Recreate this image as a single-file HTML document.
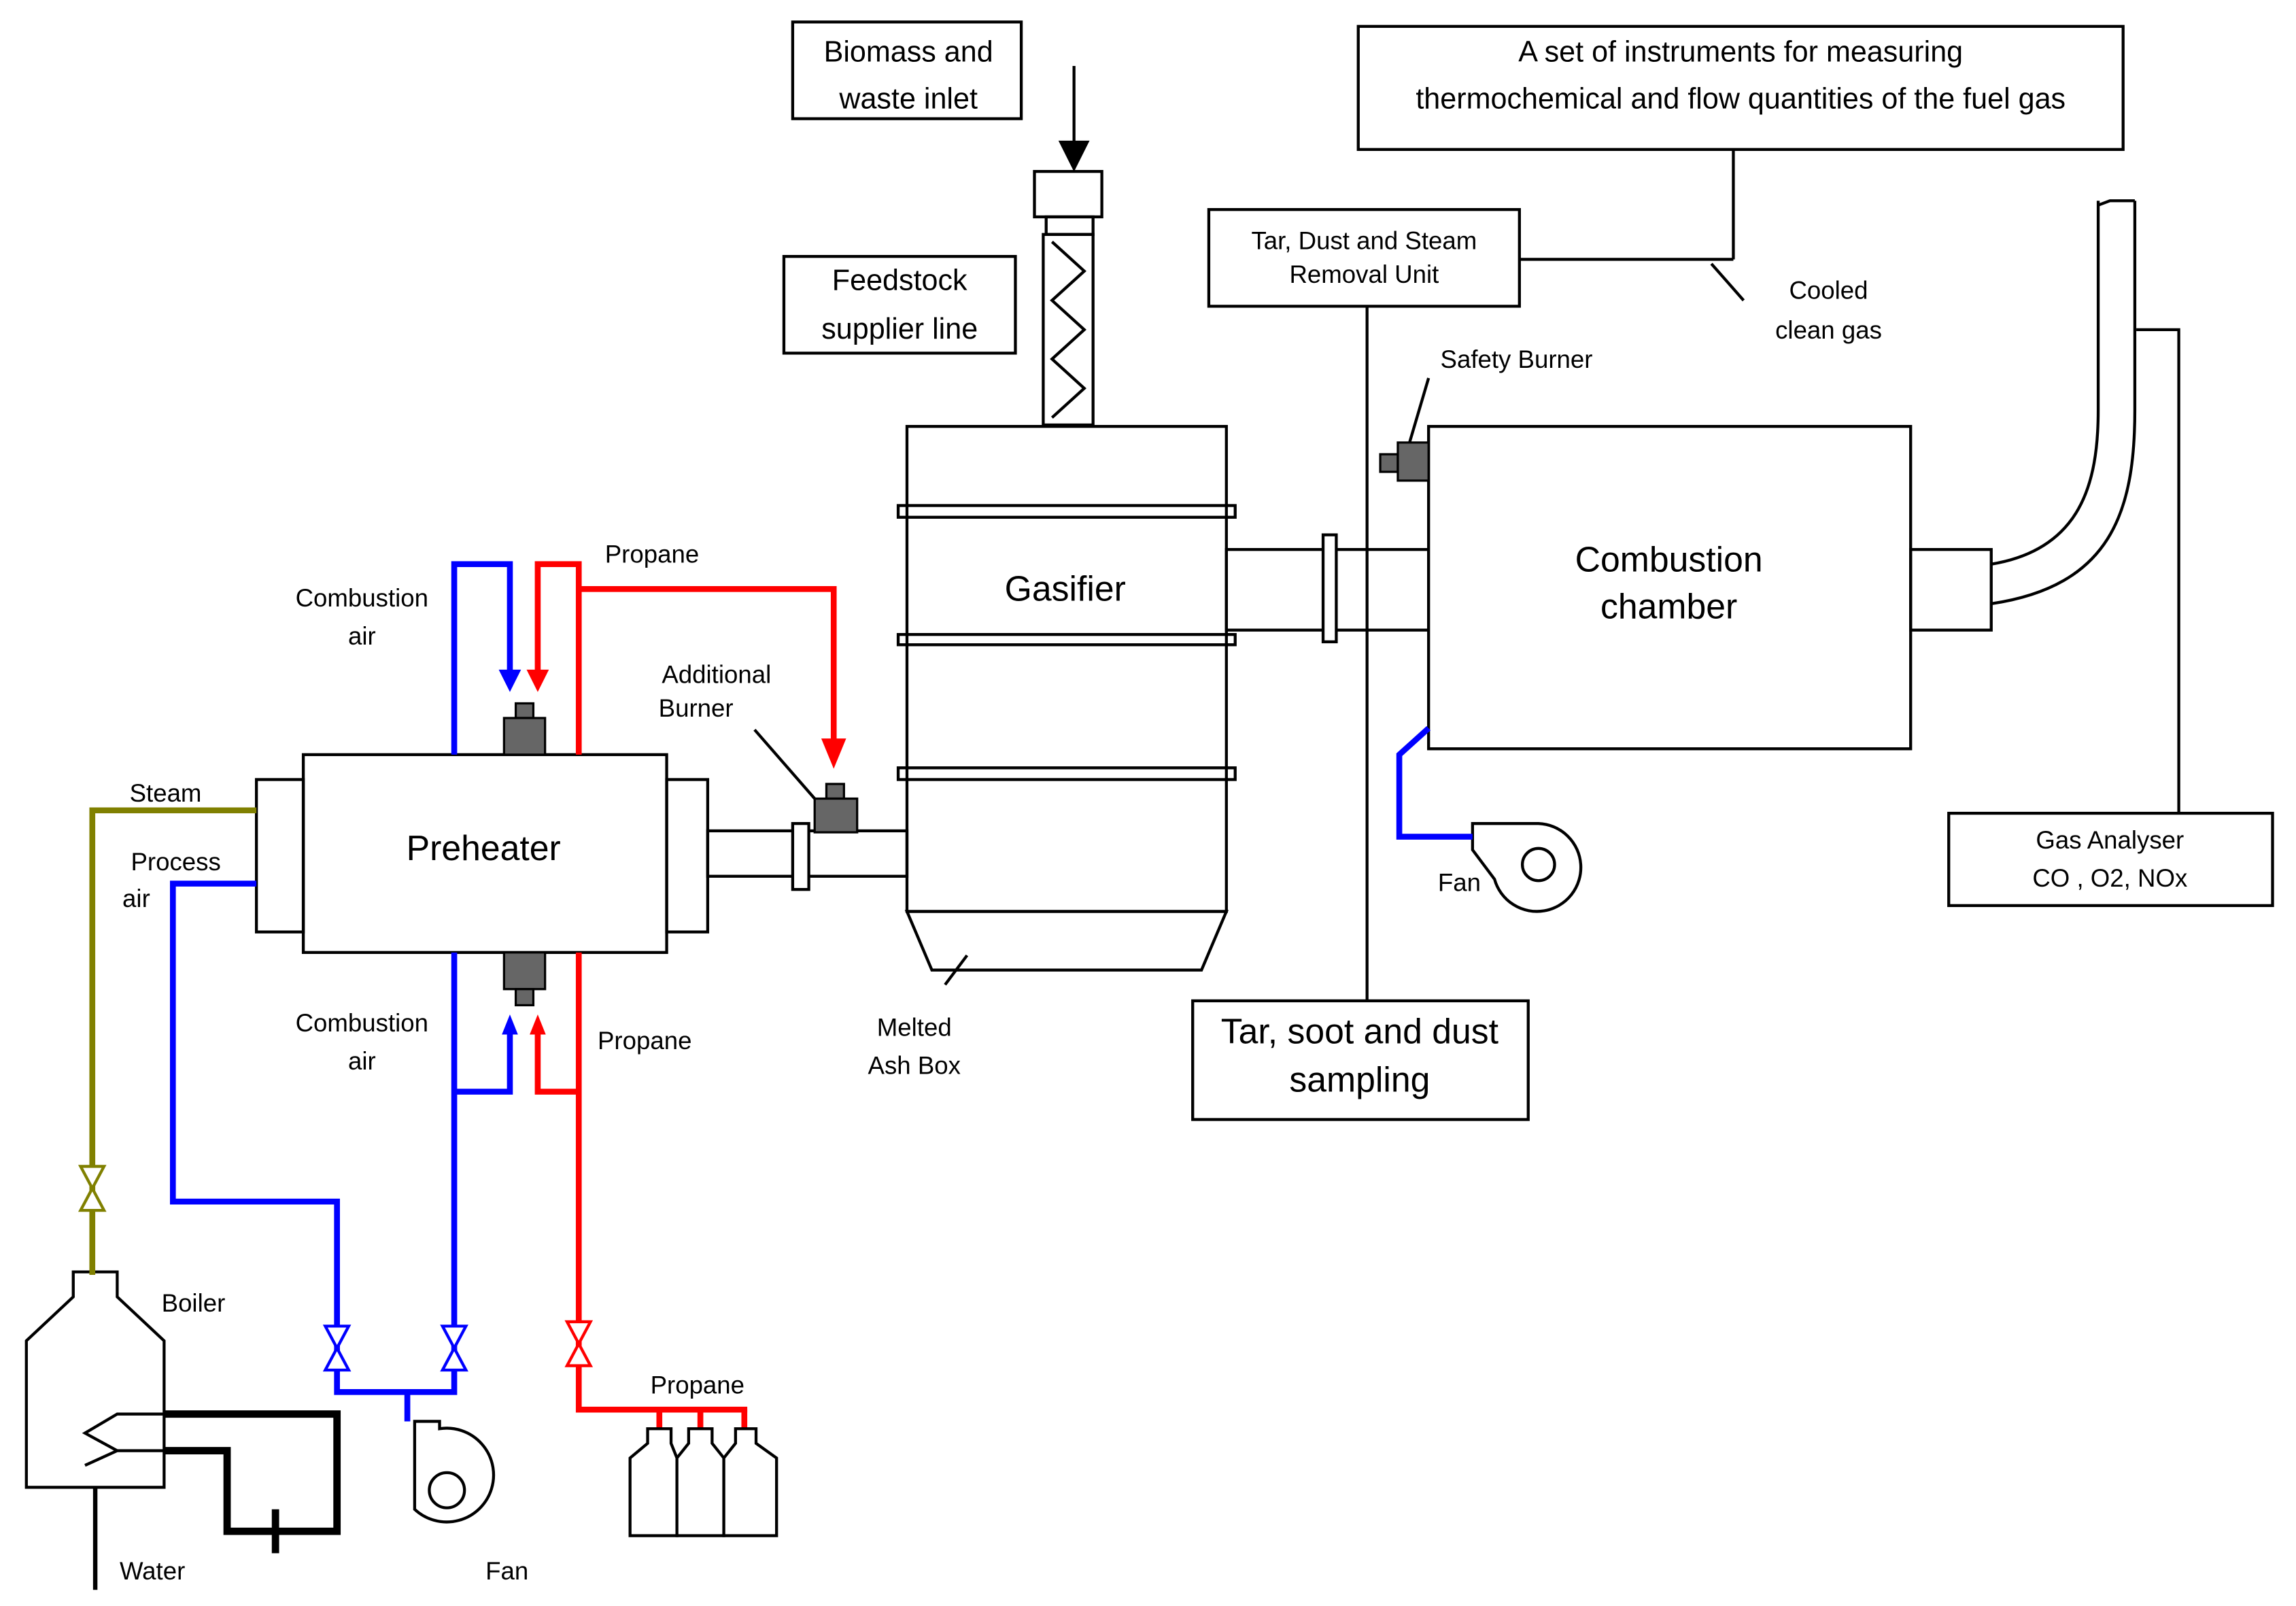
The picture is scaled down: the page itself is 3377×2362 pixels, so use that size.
<!DOCTYPE html>
<html><head><meta charset="utf-8"><style>html,body{margin:0;padding:0;background:#fff}svg{display:block}</style></head><body>
<svg width="3377" height="2362" viewBox="0 0 1567 1096" preserveAspectRatio="none" xmlns="http://www.w3.org/2000/svg" font-family="Liberation Sans, sans-serif">
<g fill="none" stroke="#000" stroke-width="2">
<rect x="541" y="15" width="156" height="66"/>
<rect x="535" y="175" width="158" height="66"/>
<rect x="927" y="18" width="522" height="84"/>
<rect x="825" y="143" width="212" height="66"/>
<rect x="814" y="683" width="229" height="81"/>
<rect x="1330" y="555" width="221" height="63"/>
<line x1="733" y1="45" x2="733" y2="100"/>
<rect x="706" y="117" width="46" height="31"/>
<rect x="714" y="148" width="32" height="12"/>
<rect x="712" y="160" width="34" height="130"/>
<polyline points="718,165 740,185 718,205 740,225 718,245 740,265 718,285"/>
<rect x="619" y="291" width="218" height="331"/>
<rect x="613" y="345" width="230" height="8"/>
<rect x="613" y="433" width="230" height="7"/>
<rect x="613" y="524" width="230" height="8"/>
<polygon points="619,622 837,622 820,662 636,662"/>
<line x1="660" y1="652" x2="645" y2="672"/>
<rect x="837" y="375" width="138" height="55"/>
<rect x="903" y="365" width="9" height="73" fill="#fff"/>
<rect x="975" y="291" width="329" height="220" fill="#fff"/>
<rect x="1304" y="375" width="55" height="55"/>
<path d="M1359,385 C1420,375 1432,330 1432,280 L1432,137"/>
<path d="M1359,412 C1440,400 1457,350 1457,280 L1457,137"/>
<path d="M1432,140 L1440,137 L1457,137"/>
<line x1="1183" y1="102" x2="1183" y2="177"/>
<line x1="1183" y1="177" x2="1037" y2="177"/>
<line x1="1168" y1="180" x2="1190" y2="205"/>
<line x1="933" y1="209" x2="933" y2="683"/>
<polyline points="1458,225 1487,225 1487,555"/>
<rect x="207" y="515" width="248" height="135"/>
<rect x="175" y="532" width="32" height="104"/>
<rect x="455" y="532" width="28" height="104"/>
<rect x="483" y="567" width="136" height="31"/>
<rect x="541" y="562" width="11" height="45" fill="#fff"/>
<line x1="515" y1="498" x2="556" y2="545"/>
<polygon points="18,1015 18,915 50,885 50,868 80,868 80,885 112,915 112,1015" />
<polyline points="112,965 80,965 58,978 80,990 58,1000 80,990 112,990" />
<path d="M283,970 L283,1030 A32,32 0 1 0 300,975 L300,970Z" fill="#fff"/>
<circle cx="305" cy="1017" r="12"/>
<path d="M1005,562 L1050,562 A30,30 0 1 1 1020,600 L1005,580Z"/>
<circle cx="1050" cy="590" r="11"/>
</g>
<g fill="none" stroke="#000" stroke-width="5">
<polyline points="112,965 230,965 230,1045 190,1045"/>
<polyline points="112,990 155,990 155,1045 190,1045"/>
<line x1="65" y1="1015" x2="65" y2="1085" stroke-width="3"/>
<line x1="188" y1="1030" x2="188" y2="1060"/>
</g>
<g fill="#666" stroke="#000" stroke-width="1.5">
<rect x="352" y="480" width="12" height="10"/><rect x="344" y="490" width="28" height="25"/>
<rect x="344" y="650" width="28" height="25"/><rect x="352" y="675" width="12" height="11"/>
<rect x="564" y="535" width="12" height="10"/><rect x="556" y="545" width="29" height="23"/>
<rect x="942" y="310" width="12" height="12"/><rect x="954" y="302" width="21" height="26"/>
</g>
<line x1="962" y1="302" x2="975" y2="258" stroke="#000" stroke-width="2"/>
<g fill="none" stroke="#00f" stroke-width="4">
<polyline points="310,515 310,385 348,385 348,462"/>
<polyline points="310,650 310,920"/>
<polyline points="310,745 348,745 348,700"/>
<polyline points="175,603 118,603 118,820 230,820 230,920"/>
<polyline points="230,920 230,950 310,950 310,920"/>
<line x1="278" y1="950" x2="278" y2="970"/>
<polyline points="975,497 955,515 955,571 1005,571"/>
</g>
<g fill="none" stroke="#f00" stroke-width="4">
<polyline points="395,515 395,385 367,385 367,462"/>
<polyline points="395,402 569,402 569,510"/>
<polyline points="395,650 395,920"/>
<polyline points="395,745 367,745 367,700"/>
<polyline points="395,920 395,962 510,962"/>
<line x1="450" y1="962" x2="450" y2="975"/><line x1="478" y1="962" x2="478" y2="975"/><line x1="508" y1="962" x2="508" y2="975"/>
</g>
<g fill="none" stroke="#808000" stroke-width="4">
<polyline points="175,553 63,553 63,870"/>
</g>
<g stroke-width="2">
<path d="M342,458 L354,458 L348,470Z" fill="#00f" stroke="#00f"/>
<path d="M361,458 L373,458 L367,470Z" fill="#f00" stroke="#f00"/>
<path d="M562,505 L576,505 L569,522Z" fill="#f00" stroke="#f00"/>
<path d="M344,705 L352,705 L348,695Z" fill="#00f" stroke="#00f"/>
<path d="M363,705 L371,705 L367,695Z" fill="#f00" stroke="#f00"/>
<path d="M724,97 L742,97 L733,115Z" fill="#000" stroke="#000"/>
<path d="M222,905 L238,905 L222,935 L238,935Z" fill="#fff" stroke="#00f"/>
<path d="M302,905 L318,905 L302,935 L318,935Z" fill="#fff" stroke="#00f"/>
<path d="M387,902 L403,902 L387,932 L403,932Z" fill="#fff" stroke="#f00"/>
<path d="M55,796 L71,796 L55,826 L71,826Z" fill="#fff" stroke="#808000"/>
</g>
<g fill="#fff" stroke="#000" stroke-width="2">
<path d="M430,1048 L430,995 L442,985 L442,975 L458,975 L458,985 L462,995 L462,1048Z"/>
<path d="M462,1048 L462,995 L470,985 L470,975 L486,975 L486,985 L494,995 L494,1048Z"/>
<path d="M494,1048 L494,995 L502,985 L502,975 L516,975 L516,985 L530,995 L530,1048Z"/>
</g>
<g font-size="20" text-anchor="middle" fill="#000">
<text x="620" y="42">Biomass and</text><text x="620" y="74">waste inlet</text>
<text x="614" y="198">Feedstock</text><text x="614" y="231">supplier line</text>
<text x="1188" y="42">A set of instruments for measuring</text><text x="1188" y="74">thermochemical and flow quantities of the fuel gas</text>
<text x="928" y="712" font-size="24">Tar, soot and dust</text><text x="928" y="745" font-size="24">sampling</text>
<text x="1139" y="390" font-size="24">Combustion</text><text x="1139" y="422" font-size="24">chamber</text>
<text x="727" y="410" font-size="24">Gasifier</text>
<text x="330" y="587" font-size="24">Preheater</text>
</g>
<g font-size="17" text-anchor="middle" fill="#000">
<text x="931" y="170">Tar, Dust and Steam</text><text x="931" y="193">Removal Unit</text>
<text x="1248" y="204">Cooled</text><text x="1248" y="231">clean gas</text>
<text x="1035" y="251">Safety Burner</text>
<text x="1440" y="579">Gas Analyser</text><text x="1440" y="605">CO , O2, NOx</text>
<text x="996" y="608">Fan</text>
<text x="445" y="384">Propane</text>
<text x="247" y="414">Combustion</text><text x="247" y="440">air</text>
<text x="489" y="466">Additional</text><text x="475" y="489">Burner</text>
<text x="113" y="547">Steam</text>
<text x="120" y="594">Process</text><text x="93" y="619">air</text>
<text x="247" y="704">Combustion</text><text x="247" y="730">air</text>
<text x="440" y="716">Propane</text>
<text x="624" y="707">Melted</text><text x="624" y="733">Ash Box</text>
<text x="132" y="895">Boiler</text>
<text x="476" y="951">Propane</text>
<text x="104" y="1078">Water</text>
<text x="346" y="1078">Fan</text>
</g>
</svg>
</body></html>
